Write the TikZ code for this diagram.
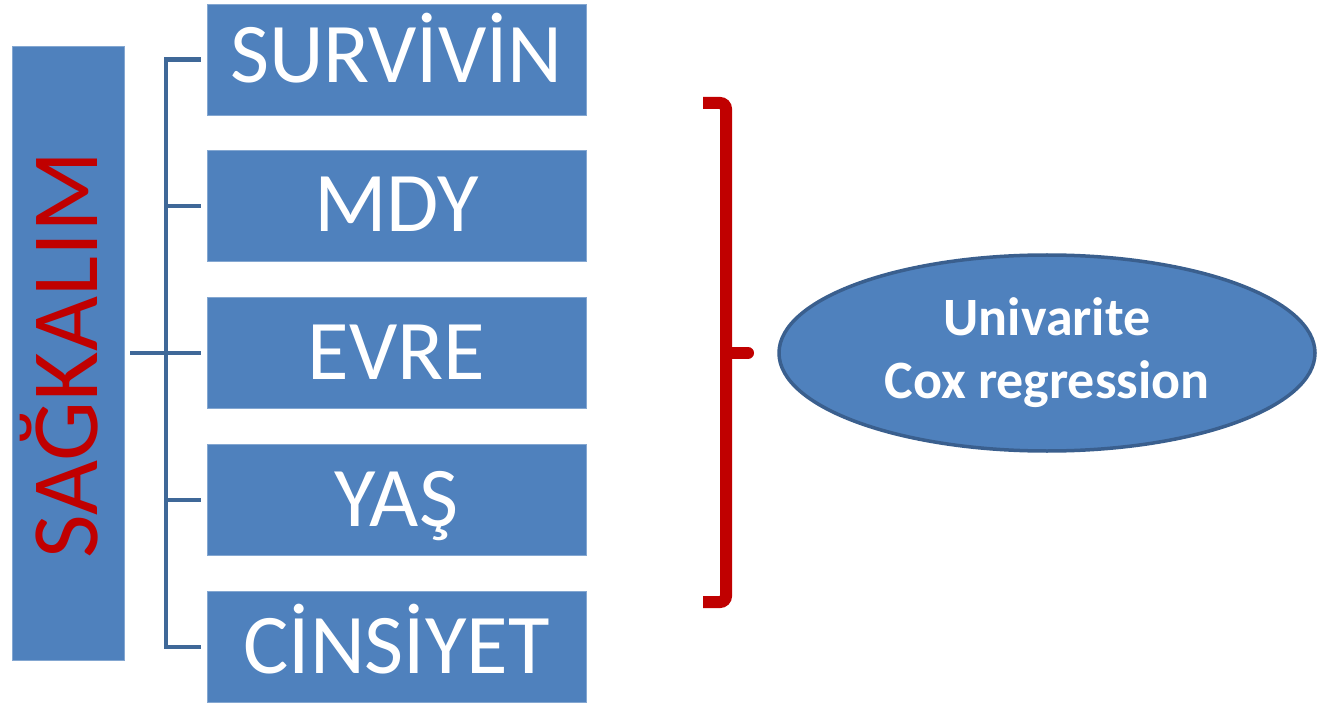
\documentclass[tikz,border=0pt]{standalone}
\usepackage{fontspec}
\setmainfont{Carlito}
\usetikzlibrary{shapes.geometric}
\definecolor{boxblue}{HTML}{4F81BD}
\definecolor{lineblue}{HTML}{3F6898}
\definecolor{edgeblue}{HTML}{3A5F8E}
\definecolor{bracered}{HTML}{C00000}
\tikzset{
  itembox/.style={draw=boxblue!70!white, line width=0.8pt, fill=boxblue, minimum width=379pt, minimum height=111pt, inner sep=0pt},
  itemtext/.style={anchor=base, inner sep=0pt, text=white, font=\fontsize{85}{85}\selectfont},
  coxtext/.style={anchor=base, inner sep=0pt, text=white, font=\bfseries\fontsize{54}{54}\selectfont},
  conn/.style={draw=lineblue, line width=4.5pt},
  brace/.style={draw=bracered, line width=12pt}
}
\begin{document}
\begin{tikzpicture}[x=1pt,y=-1pt]
\useasboundingbox (0,0) rectangle (1328,703);
\node[fill=boxblue, draw=boxblue!70!white, line width=0.8pt, minimum width=112pt, minimum height=614pt, inner sep=0pt] (side) at (68,353) {};
\node[rotate=90, anchor=base, inner sep=0pt, text=bracered, font=\fontsize{95}{95}\selectfont] (sidetxt) at (97,355) {SAĞKALIM};
\node[itembox] (b1) at (396.5,59.5) {};
\node[itembox] (b2) at (396.5,206) {};
\node[itembox] (b3) at (396.5,353) {};
\node[itembox] (b4) at (396.5,500) {};
\node[itembox] (b5) at (396.5,647) {};
\node[itemtext] (t1) at (396.5,83) {SURVİVİN};
\node[itemtext] (t2) at (396.5,232) {MDY};
\node[itemtext] (t3) at (396.5,379) {EVRE};
\node[itemtext] (t4) at (396.5,526) {YAŞ};
\node[itemtext] (t5) at (396.5,673) {CİNSİYET};
\coordinate (vt) at (166,59.5);
\coordinate (vb) at (166,647);
\draw[conn] ([xshift=-6pt]b1.west) -- (vt) -- (vb) -- ([xshift=-6pt]b5.west);
\draw[conn] ([xshift=-6pt]b2.west) -- (166,206);
\draw[conn] ([xshift=-6pt]b4.west) -- (166,500);
\draw[conn] ([xshift=6pt]side.east) -- ([xshift=-6pt]b3.west);
\coordinate (bt) at (703,103);
\coordinate (bb) at (703,602);
\coordinate (bm) at (748,353);
\draw[brace, rounded corners=6pt] (bt) -- (726,103) -- (726,602) -- (bb);
\draw[brace, line cap=round] (726,353) -- (bm);
\node[ellipse, fill=boxblue, draw=edgeblue, line width=3.5pt, minimum width=536pt, minimum height=196pt, inner sep=0pt] (cox) at (1047,353) {};
\node[coxtext] (cox1) at (1047,335) {Univarite};
\node[coxtext] (cox2) at (1047,398) {Cox regression};
\end{tikzpicture}
\end{document}
